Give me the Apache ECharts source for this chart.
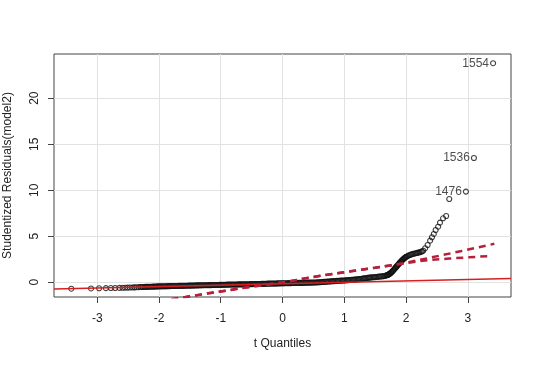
<!DOCTYPE html>
<html>
<head>
<meta charset="utf-8">
<script src="https://cdn.jsdelivr.net/npm/echarts@6/dist/echarts.min.js"></script>
<style>
html,body{margin:0;padding:0;background:#fff;}
#chart{width:540px;height:366px;}
</style>
</head>
<body>
<div id="chart"></div>
<script>
// Tick labels
const xTicks = [-3, -2, -1, 0, 1, 2, 3];
const yTicks = [0, 5, 10, 15, 20];

// Q-Q points: t quantiles (x) vs studentized residuals (y)
const qqX = [
  -3.42, -3.10, -2.97, -2.86, -2.78, -2.71, -2.64, -2.59, -2.55, -2.51, -2.47, -2.43, -2.40, -2.37, -2.33,
  -2.30, -2.28, -2.26, -2.24, -2.22, -2.20, -2.18, -2.16, -2.14, -2.12,
  -2.10, -2.08, -2.06, -2.04, -2.02, -2.00, -1.98, -1.96, -1.94, -1.92,
  -1.90, -1.88, -1.86, -1.84, -1.82, -1.80, -1.78, -1.76, -1.74, -1.72,
  -1.70, -1.68, -1.66, -1.64, -1.62, -1.60, -1.58, -1.56, -1.54, -1.52,
  -1.50, -1.48, -1.46, -1.44, -1.42, -1.40, -1.38, -1.36, -1.34, -1.32,
  -1.30, -1.28, -1.26, -1.24, -1.22, -1.20, -1.18, -1.16, -1.14, -1.12,
  -1.10, -1.08, -1.06, -1.04, -1.02, -1.00, -0.98, -0.96, -0.94, -0.92,
  -0.90, -0.88, -0.86, -0.84, -0.82, -0.80, -0.78, -0.76, -0.74, -0.72,
  -0.70, -0.68, -0.66, -0.64, -0.62, -0.60, -0.58, -0.56, -0.54, -0.52,
  -0.50, -0.48, -0.46, -0.44, -0.42, -0.40, -0.38, -0.36, -0.34, -0.32,
  -0.30, -0.28, -0.26, -0.24, -0.22, -0.20, -0.18, -0.16, -0.14, -0.12,
  -0.10, -0.08, -0.06, -0.04, -0.02, 0.00, 0.02, 0.04, 0.06, 0.08,
  0.10, 0.12, 0.14, 0.16, 0.18, 0.20, 0.22, 0.24, 0.26, 0.28,
  0.30, 0.32, 0.34, 0.36, 0.38, 0.40, 0.42, 0.44, 0.46, 0.48,
  0.50, 0.52, 0.54, 0.56, 0.58, 0.60, 0.62, 0.64, 0.66, 0.68,
  0.70, 0.72, 0.74, 0.76, 0.78, 0.80, 0.82, 0.84, 0.86, 0.88,
  0.90, 0.92, 0.94, 0.96, 0.98, 1.00, 1.02, 1.04, 1.06, 1.08,
  1.10, 1.12, 1.14, 1.16, 1.18, 1.20, 1.22, 1.24, 1.26, 1.28,
  1.30, 1.32, 1.34, 1.36, 1.38, 1.40, 1.42, 1.44, 1.46, 1.48,
  1.50, 1.52, 1.54, 1.56, 1.58, 1.60, 1.62, 1.64, 1.66,
  1.68, 1.69, 1.70, 1.71, 1.72, 1.73, 1.74, 1.75, 1.76, 1.77,
  1.78, 1.79, 1.80, 1.81, 1.82, 1.83, 1.84, 1.85, 1.86, 1.87,
  1.88, 1.89, 1.90, 1.91, 1.92, 1.93, 1.94, 1.95, 1.96, 1.97,
  1.98, 1.99, 2.00, 2.02, 2.04, 2.06, 2.08, 2.10, 2.12, 2.14,
  2.16, 2.18, 2.20, 2.22, 2.24, 2.26, 2.28,
  2.31, 2.35, 2.39, 2.42, 2.45, 2.48, 2.52, 2.55, 2.60, 2.65, 2.70,
  2.97, 3.10, 3.41
];
const qqY = [
  -0.70, -0.67, -0.65, -0.64, -0.63, -0.62, -0.61, -0.60, -0.59, -0.58, -0.57, -0.56, -0.55, -0.54, -0.53,
  -0.52, -0.52, -0.51, -0.51, -0.50, -0.50, -0.49, -0.49, -0.48, -0.48,
  -0.47, -0.47, -0.46, -0.46, -0.45, -0.45, -0.45, -0.44, -0.44, -0.44,
  -0.43, -0.43, -0.42, -0.42, -0.42, -0.41, -0.41, -0.41, -0.40, -0.40,
  -0.40, -0.39, -0.39, -0.39, -0.38, -0.38, -0.38, -0.37, -0.37, -0.36,
  -0.36, -0.36, -0.35, -0.35, -0.35, -0.34, -0.34, -0.34, -0.33, -0.33,
  -0.33, -0.32, -0.32, -0.32, -0.32, -0.31, -0.31, -0.31, -0.30, -0.30,
  -0.30, -0.29, -0.29, -0.29, -0.28, -0.28, -0.28, -0.27, -0.27, -0.27,
  -0.26, -0.26, -0.26, -0.25, -0.25, -0.25, -0.24, -0.24, -0.24, -0.23,
  -0.23, -0.23, -0.23, -0.22, -0.22, -0.22, -0.21, -0.21, -0.21, -0.20,
  -0.20, -0.20, -0.19, -0.19, -0.19, -0.18, -0.18, -0.18, -0.17, -0.17,
  -0.16, -0.16, -0.16, -0.15, -0.15, -0.15, -0.14, -0.14, -0.13, -0.13,
  -0.13, -0.12, -0.12, -0.12, -0.11, -0.11, -0.11, -0.10, -0.10, -0.10,
  -0.09, -0.09, -0.09, -0.08, -0.08, -0.08, -0.07, -0.07, -0.07, -0.06,
  -0.06, -0.06, -0.05, -0.05, -0.05, -0.04, -0.04, -0.04, -0.04, -0.03,
  -0.03, -0.02, -0.02, -0.01, 0.00, 0.01, 0.02, 0.03, 0.04, 0.05,
  0.06, 0.07, 0.08, 0.09, 0.10, 0.11, 0.12, 0.13, 0.14, 0.15,
  0.16, 0.17, 0.18, 0.18, 0.19, 0.20, 0.21, 0.22, 0.23, 0.24,
  0.25, 0.26, 0.28, 0.29, 0.30, 0.32, 0.33, 0.35, 0.36, 0.38,
  0.40, 0.42, 0.44, 0.46, 0.48, 0.50, 0.51, 0.53, 0.54, 0.55,
  0.56, 0.58, 0.59, 0.61, 0.62, 0.64, 0.65, 0.67, 0.70,
  0.74, 0.76, 0.79, 0.82, 0.86, 0.90, 0.95, 1.00, 1.06, 1.12,
  1.19, 1.26, 1.34, 1.42, 1.50, 1.58, 1.66, 1.74, 1.82, 1.90,
  1.97, 2.05, 2.12, 2.20, 2.27, 2.34, 2.41, 2.48, 2.54, 2.60,
  2.66, 2.71, 2.76, 2.83, 2.90, 2.96, 3.01, 3.06, 3.10, 3.13,
  3.16, 3.19, 3.22, 3.26, 3.30, 3.36, 3.43,
  3.70, 4.05, 4.52, 4.89, 5.25, 5.68, 6.04, 6.48, 6.95, 7.20, 9.05,
  9.85, 13.5, 23.8
];
// Labelled outliers (by point value) and their observation ids
const outlierY = [9.85, 13.5, 23.8];
const outlierIds = ['1476', '1536', '1554'];

// Reference line (solid)
const refX = [-3.7, 3.7];
const refY = [-0.72, 0.42];

// Envelope lines (dashed)
const envUpperX = [-1.80, -1.2, -0.6, 0.0, 0.5, 1.0, 1.5, 1.95, 2.4, 2.9, 3.43];
const envUpperY = [-1.85, -1.2, -0.58, -0.02, 0.58, 1.1, 1.58, 2.05, 2.68, 3.4, 4.18];
const envLowerX = [-1.80, -1.2, -0.6, 0.0, 0.5, 1.0, 1.5, 1.95, 2.37, 2.70, 3.02, 3.37];
const envLowerY = [-1.85, -1.2, -0.58, -0.02, 0.58, 1.1, 1.58, 2.05, 2.42, 2.58, 2.71, 2.86];

const zip = (a, b) => a.map((v, i) => [v, b[i]]);

const pointData = qqX.map((x, i) => {
  const y = qqY[i];
  const k = outlierY.indexOf(y);
  if (k >= 0 && x > 2.9) {
    return { value: [x, y], label: { show: true, formatter: outlierIds[k] } };
  }
  return [x, y];
});

const font = 'Liberation Sans, Arial, sans-serif';
const chart = echarts.init(document.getElementById('chart'), null, { renderer: 'canvas' });
chart.setOption({
  animation: false,
  backgroundColor: '#fff',
  grid: { left: 54, right: 29, top: 54, bottom: 69, containLabel: false, outerBoundsMode: 'none',
    show: true, borderColor: '#444', borderWidth: 1, backgroundColor: 'transparent' },
  xAxis: {
    type: 'value', min: -3.7, max: 3.7,
    name: 't Quantiles', nameLocation: 'middle', nameGap: 41,
    nameTextStyle: { fontSize: 12, color: '#222', fontFamily: font },
    axisLine: { show: false, onZero: false },
    axisTick: { show: true, inside: false, length: 6, customValues: xTicks, lineStyle: { color: '#444' } },
    axisLabel: { customValues: xTicks, margin: 16, fontSize: 12, color: '#222', fontFamily: font },
    splitLine: { show: true, lineStyle: { color: '#e2e2e2', width: 1 } }
  },
  yAxis: {
    type: 'value', min: -1.6, max: 24.8,
    name: 'Studentized Residuals(model2)', nameLocation: 'middle', nameGap: 40, nameRotate: 90,
    nameTextStyle: { fontSize: 12, color: '#222', fontFamily: font },
    axisLine: { show: false, onZero: false },
    axisTick: { show: true, inside: false, length: 6, customValues: yTicks, lineStyle: { color: '#444' } },
    axisLabel: { customValues: yTicks, rotate: 90, margin: 13, fontSize: 12, color: '#222', fontFamily: font },
    splitLine: { show: true, lineStyle: { color: '#e2e2e2', width: 1 } }
  },
  series: [
    {
      type: 'scatter',
      data: pointData,
      symbol: 'circle',
      symbolSize: 5,
      itemStyle: { color: 'rgba(0,0,0,0)', borderColor: '#111', borderWidth: 1.1 },
      label: { show: false, position: 'left', distance: 1, fontSize: 12, color: '#222', fontFamily: font },
      emphasis: { disabled: true },
      z: 2
    },
    {
      type: 'line', data: zip(refX, refY), showSymbol: false, symbol: 'none',
      lineStyle: { color: '#d42020', width: 1.5 }, z: 3
    },
    {
      type: 'line', data: zip(envUpperX, envUpperY), showSymbol: false, symbol: 'none',
      lineStyle: { color: '#b5203a', width: 2.5, type: [7, 5] }, z: 3
    },
    {
      type: 'line', data: zip(envLowerX, envLowerY), showSymbol: false, symbol: 'none',
      lineStyle: { color: '#b5203a', width: 2.5, type: [7, 5] }, z: 3
    }
  ]
});
</script>
</body>
</html>
